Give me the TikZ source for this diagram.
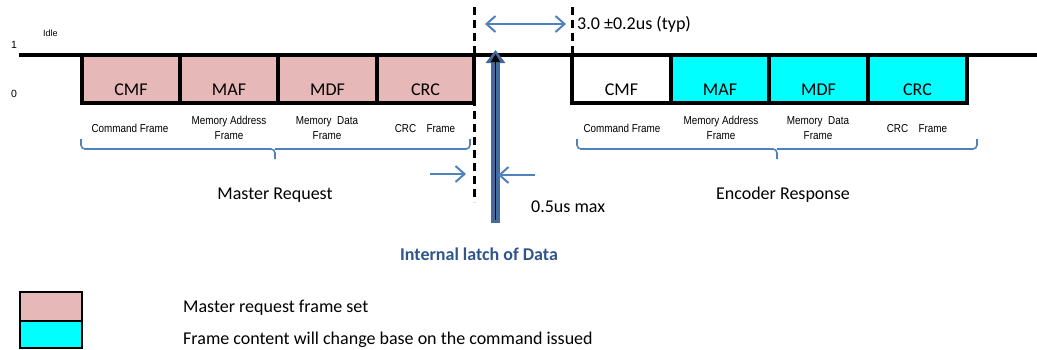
\documentclass[tikz,border=0pt]{standalone}
\usepackage{fontspec}
\setmainfont{Carlito}
\newfontfamily\arialf{Liberation Sans}
\usetikzlibrary{arrows.meta}
\definecolor{pinkf}{RGB}{230,185,184}
\definecolor{cyanf}{RGB}{0,255,255}
\definecolor{lblue}{RGB}{79,129,189}
\definecolor{barblue}{RGB}{68,106,158}
\definecolor{ltext}{RGB}{47,85,140}
\newcommand\narrowtxt[1]{\scalebox{0.86}[1]{\begin{tabular}{@{}c@{}}#1\end{tabular}}}
\begin{document}
\begin{tikzpicture}[x=1pt,y=-1pt,
  frame/.style={draw=black, line width=3.3pt, minimum width=98pt, minimum height=48pt,
    inner sep=0pt, outer sep=0pt, text height=32pt, text depth=0pt, font=\fontsize{18}{20}\selectfont},
  wave/.style={draw=black, line width=3.3pt, line join=miter},
  dashv/.style={draw=black, line width=3pt, dash pattern=on 8pt off 5pt},
  barrow/.style={draw=lblue, line width=2pt, -{Straight Barb[length=9pt,width=16pt]}},
  brace/.style={draw=lblue, line width=1.6pt, rounded corners=4pt},
  small/.style={inner sep=0pt, font=\arialf\fontsize{11.5}{15}\selectfont},
  big/.style={inner sep=0pt, font=\fontsize{18}{20}\selectfont},
  tiny/.style={inner sep=0pt, font=\arialf\fontsize{10.5}{12}\selectfont}
]
\useasboundingbox (0,0) rectangle (1037,349);

% axis labels
\node[tiny, anchor=base west, font=\arialf\fontsize{9}{11}\selectfont] (idle) at (43,36) {Idle};
\node[tiny, anchor=base west] (one) at (11,48) {1};
\node[tiny, anchor=base west] (zero) at (11,97) {0};

% master request frames
\node[frame, fill=pinkf] (cmf1) at (131,79) {CMF};
\node[frame, fill=pinkf] (maf1) at (229,79) {MAF};
\node[frame, fill=pinkf] (mdf1) at (327.5,79) {MDF};
\node[frame, fill=pinkf, minimum width=97pt] (crc1) at (425.5,79) {CRC};

% encoder response frames
\node[frame, fill=white, minimum width=99pt] (cmf2) at (621.5,79) {CMF};
\node[frame, fill=cyanf] (maf2) at (720,79) {MAF};
\node[frame, fill=cyanf] (mdf2) at (818.5,79) {MDF};
\node[frame, fill=cyanf, minimum width=99pt] (crc2) at (917.5,79) {CRC};

% waveform
\coordinate (w0) at (19,55);
\coordinate (wend) at (1037,55);
\draw[wave] (w0) -- (cmf1.north west) -- (cmf1.south west);
\draw[wave] (crc1.south east) -- (crc1.north east) -- (cmf2.north west) -- (cmf2.south west);
\draw[wave] (crc2.south east) -- (crc2.north east) -- (wend);

% dashed markers
\coordinate (d1t) at (474,7);
\coordinate (d1b) at (474,202);
\coordinate (d2t) at (572,7);
\coordinate (d2b) at (572,55);
\draw[dashv] (d1t) -- (d1b);
\draw[dashv] (d2t) -- (d2b);

% 3.0us gap
\coordinate (g1) at (485,24);
\coordinate (g2) at (566,24);
\draw[draw=lblue, line width=2pt, {Straight Barb[length=9pt,width=16pt]}-{Straight Barb[length=9pt,width=16pt]}] (g1) -- (g2);
\node[big, anchor=west] (gap) at (577,24) {3.0 ±0.2us (typ)};

% frame names
\node[small] (cf1) at (130,129) {\narrowtxt{Command Frame}};
\node[small] (ma1) at (229,128.5) {\narrowtxt{Memory Address\\Frame}};
\node[small] (md1) at (327,128.5) {\narrowtxt{Memory\ \ Data\\Frame}};
\node[small] (cr1) at (425,129) {\narrowtxt{CRC\hspace{12pt}Frame}};
\node[small] (cf2) at (622,129) {\narrowtxt{Command Frame}};
\node[small] (ma2) at (721,128.5) {\narrowtxt{Memory Address\\Frame}};
\node[small] (md2) at (818,128.5) {\narrowtxt{Memory\ \ Data\\Frame}};
\node[small] (cr2) at (917,129) {\narrowtxt{CRC\hspace{12pt}Frame}};

% braces
\draw[brace] (81,139) -- (81,149) -- (275,149) -- (275,159);
\draw[brace] (275,149) -- (470,149) -- (470,139);
\draw[brace] (577,139) -- (577,149) -- (777,149) -- (777,159);
\draw[brace] (777,149) -- (977,149) -- (977,139);

\node[big, anchor=base] (mreq) at (275,199) {Master Request};
\node[big, anchor=base] (eresp) at (783,199) {Encoder Response};

% latch
\coordinate (lb) at (495.5,223);
\coordinate (lt) at (495.5,50);
\draw[draw=barblue, line width=9pt, -{Triangle[length=13pt,width=19pt]}] (lb) -- (lt);
\draw[draw=black, line width=1.8pt, -{Triangle[length=8pt,width=9pt]}] (495.5,220) -- (495.5,54);

% 0.5us arrows
\coordinate (a1s) at (430,174);
\coordinate (a1e) at (466,174);
\coordinate (a2s) at (535,175);
\coordinate (a2e) at (498,175);
\draw[barrow] (a1s) -- (a1e);
\draw[barrow] (a2s) -- (a2e);
\node[big, anchor=base west] (half) at (531,212) {0.5us max};

\node[big, anchor=base, text=ltext, font=\bfseries\fontsize{18}{20}\selectfont] (latch) at (479,260) {Internal latch of Data};

% legend
\node[draw=black, line width=1.6pt, fill=pinkf, minimum width=62pt, minimum height=29pt, inner sep=0pt] (legp) at (51,306.5) {};
\node[draw=black, line width=1.6pt, fill=cyanf, minimum width=62pt, minimum height=27pt, inner sep=0pt] (legc) at (51,334.5) {};
\node[big, anchor=base west] (legpt) at (183,312) {Master request frame set};
\node[big, anchor=base west] (legct) at (183,344) {Frame content will change base on the command issued};
\end{tikzpicture}
\end{document}
